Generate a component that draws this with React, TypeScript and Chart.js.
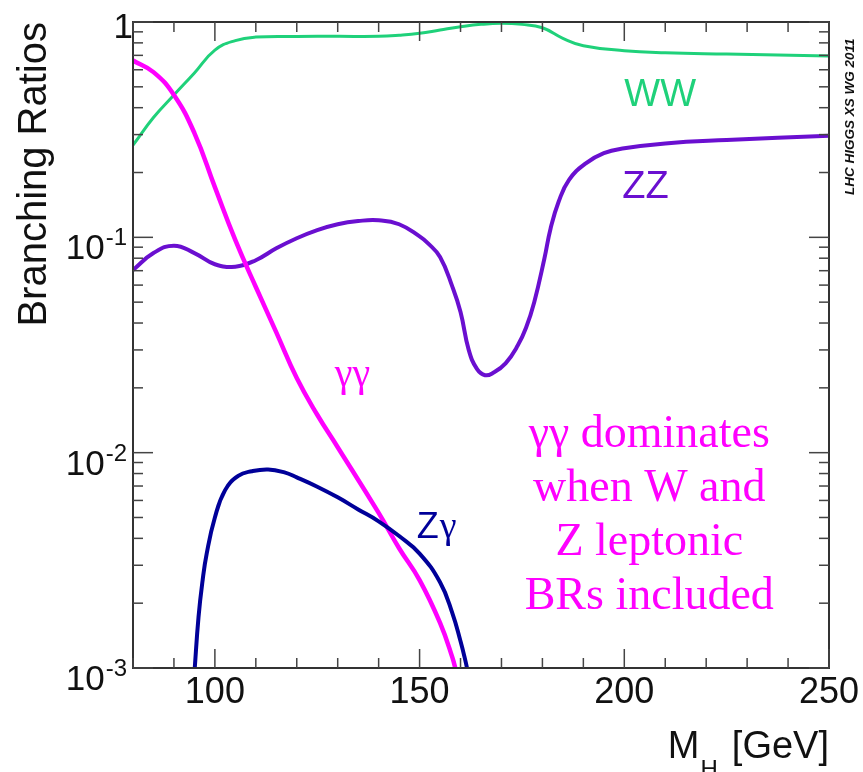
import React, { useEffect, useRef } from 'react';
import { Chart, registerables } from 'chart.js';

Chart.register(...registerables);

// ---- data ----
const massWW = [80, 85, 90, 95, 100, 105, 110, 120, 130, 140, 145, 150, 155, 160, 165, 170, 175, 180, 185, 190, 200, 210, 225, 250];
const brWW = [0.268, 0.36, 0.458, 0.58, 0.74, 0.82, 0.851, 0.857, 0.858, 0.858, 0.868, 0.886, 0.918, 0.95, 0.975, 0.986, 0.975, 0.94, 0.84, 0.776, 0.736, 0.72, 0.71, 0.695];

const massZZ = [80, 85, 90, 95, 100, 105, 110, 115, 120, 125, 130, 135, 140, 145, 150, 152, 155, 158, 160, 162, 164, 166, 168, 171, 174, 176, 178, 180.5, 182, 184, 186.5, 190.5, 195, 200, 210, 225, 250];
const brZZ = [0.0705, 0.0845, 0.0914, 0.0845, 0.075, 0.0731, 0.0783, 0.0889, 0.099, 0.108, 0.115, 0.119, 0.12, 0.115, 0.101, 0.094, 0.081, 0.059, 0.045, 0.03, 0.0245, 0.0229, 0.0235, 0.026, 0.0315, 0.038, 0.05, 0.08, 0.11, 0.147, 0.185, 0.22, 0.246, 0.259, 0.273, 0.283, 0.296];

const massGG = [80, 85, 90, 95, 100, 105, 110, 115, 120, 125, 130, 140, 145, 150, 155, 158, 159];
const brGG = [0.662, 0.585, 0.458, 0.305, 0.171, 0.097, 0.0588, 0.0362, 0.0222, 0.015, 0.0106, 0.00525, 0.0036, 0.00256, 0.00162, 0.00112, 0.00095];

const massZG = [95, 96, 97, 98, 100, 102.5, 105.7, 109, 113, 117, 120, 125, 130, 135, 140, 145, 150, 155, 158, 160, 161, 162];
const brZG = [0.00095, 0.00172, 0.00255, 0.0034, 0.005, 0.0067, 0.0078, 0.0082, 0.00836, 0.0081, 0.00768, 0.00695, 0.0062, 0.00545, 0.0048, 0.0041, 0.0034, 0.0025, 0.0018, 0.00133, 0.00112, 0.00092];

// ---- axes / texts ----
const xMin = 80;
const xMax = 250;
const xStep = 10;
const xMajorTicks = [100, 150, 200, 250];
const yMin = 0.001;
const yMax = 1;
const yDecades = [0, -1, -2, -3];
const yTitle = 'Branching Ratios';
const xTitleMain = 'M';
const xTitleSub = 'H';
const xTitleRest = '[GeV]';
const credit = 'LHC HIGGS XS WG 2011';
const noteLines = ['γγ dominates', 'when W and', 'Z leptonic', 'BRs included'];
// label anchors in data coordinates [mass, BR]
const labelWW = { text: 'WW', at: [200, 0.407] };
const labelZZ = { text: 'ZZ', at: [199.5, 0.152] };
const labelGG = { text: 'γγ', at: [129.3, 0.0204] };
const labelZG = { main: 'Z', greek: 'γ', at: [149.3, 0.00401] };
const noteAnchor = [206.1, 0.0106];

const COL_WW = '#1fd17a';
const COL_ZZ = '#6a0fd0';
const COL_GG = '#ff00ff';
const COL_ZG = '#000099';

const SANS = '"Liberation Sans", Arial, Helvetica, sans-serif';
const SERIF = '"Liberation Serif", "Times New Roman", serif';

const pts = (xs: number[], ys: number[]) => xs.map((x, i) => ({ x, y: ys[i] }));

const decorPlugin = {
  id: 'decor',
  afterDatasetsDraw(chart: any) {
    const { ctx, chartArea: a, scales } = chart;
    const xs = scales.x;
    const ys = scales.y;
    ctx.save();

    // frame
    ctx.strokeStyle = '#333';
    ctx.lineWidth = 2;
    ctx.strokeRect(a.left, a.top, a.right - a.left, a.bottom - a.top);

    // ticks
    ctx.strokeStyle = '#444';
    ctx.lineWidth = 1.5;
    const seg = (x1: number, y1: number, x2: number, y2: number) => {
      ctx.beginPath();
      ctx.moveTo(x1, y1);
      ctx.lineTo(x2, y2);
      ctx.stroke();
    };
    for (let v = xMin; v <= xMax; v += xStep) {
      const px = xs.getPixelForValue(v);
      const len = xMajorTicks.includes(v) ? 19 : 10;
      seg(px, a.bottom, px, a.bottom - len);
      seg(px, a.top, px, a.top + len);
    }
    for (const e of yDecades) {
      for (let m = 1; m <= 9; m++) {
        const v = m * Math.pow(10, e);
        if (v > yMax * 1.0001) continue;
        const py = ys.getPixelForValue(v);
        const len = m === 1 ? 20 : 10;
        seg(a.left, py, a.left + len, py);
        seg(a.right, py, a.right - len, py);
      }
    }

    // y tick labels with superscripts
    ctx.fillStyle = '#111';
    ctx.textBaseline = 'alphabetic';
    ctx.textAlign = 'right';
    for (const e of yDecades) {
      const py = ys.getPixelForValue(Math.pow(10, e));
      if (e === 0) {
        ctx.font = `35px ${SANS}`;
        ctx.fillText('1', a.left, py + 16);
      } else {
        const sup = '-' + String(-e);
        ctx.font = `24px ${SANS}`;
        const rx = a.left - 6;
        ctx.fillText(sup, rx, py + 8);
        const w = ctx.measureText(sup).width;
        ctx.font = `35px ${SANS}`;
        ctx.fillText('10', rx - w - 1, py + 22);
      }
    }

    // x title with subscript
    ctx.textAlign = 'left';
    ctx.font = `38px ${SANS}`;
    const restW = ctx.measureText(xTitleRest).width;
    const mW = ctx.measureText(xTitleMain).width;
    ctx.font = `24px ${SANS}`;
    const hW = ctx.measureText(xTitleSub).width;
    const restX = a.right - restW;
    const hX = restX - 14 - hW;
    const mX = hX - mW - 1;
    ctx.font = `38px ${SANS}`;
    ctx.fillText(xTitleMain, mX, 758);
    ctx.fillText(xTitleRest, restX, 758);
    ctx.font = `24px ${SANS}`;
    ctx.fillText(xTitleSub, hX, 777);

    // series labels
    const P = (at: number[]) => [xs.getPixelForValue(at[0]), ys.getPixelForValue(at[1])];
    ctx.textAlign = 'left';
    let p = P(labelWW.at);
    ctx.fillStyle = COL_WW;
    ctx.font = `38px ${SANS}`;
    ctx.fillText(labelWW.text, p[0], p[1]);
    p = P(labelZZ.at);
    ctx.fillStyle = COL_ZZ;
    ctx.fillText(labelZZ.text, p[0], p[1]);
    p = P(labelGG.at);
    ctx.fillStyle = COL_GG;
    ctx.font = `40px ${SERIF}`;
    ctx.fillText(labelGG.text, p[0], p[1]);
    p = P(labelZG.at);
    ctx.fillStyle = COL_ZG;
    ctx.font = `36px ${SANS}`;
    ctx.fillText(labelZG.main, p[0], p[1]);
    const zw = ctx.measureText(labelZG.main).width;
    ctx.font = `38px ${SERIF}`;
    ctx.fillText(labelZG.greek, p[0] + zw + 1, p[1]);

    // annotation
    p = P(noteAnchor);
    ctx.fillStyle = COL_GG;
    ctx.font = `46px ${SERIF}`;
    ctx.textAlign = 'center';
    noteLines.forEach((t, i) => ctx.fillText(t, p[0], p[1] + i * 54));

    // credit, rotated
    ctx.save();
    ctx.translate(a.right + 21, 195);
    ctx.rotate(-Math.PI / 2);
    ctx.fillStyle = '#111';
    ctx.font = `italic bold 13.5px ${SANS}`;
    ctx.textAlign = 'left';
    ctx.textBaseline = 'middle';
    ctx.fillText(credit, 0, 0);
    ctx.restore();

    ctx.restore();
  },
};

export default function App() {
  const ref = useRef<HTMLCanvasElement | null>(null);
  useEffect(() => {
    if (!ref.current) return;
    const line = (data: any, color: string, width: number, order: number) => ({
      data,
      borderColor: color,
      backgroundColor: color,
      borderWidth: width,
      pointRadius: 0,
      showLine: true,
      fill: false,
      tension: 0.45,
      order,
    });
    const chart = new Chart(ref.current, {
      type: 'scatter',
      data: {
        datasets: [
          { label: 'Zγ', ...line(pts(massZG, brZG), COL_ZG, 4, 0) },
          { label: 'γγ', ...line(pts(massGG, brGG), COL_GG, 4.5, 1) },
          { label: 'ZZ', ...line(pts(massZZ, brZZ), COL_ZZ, 4, 2) },
          { label: 'WW', ...line(pts(massWW, brWW), COL_WW, 3, 3) },
        ] as any,
      },
      options: {
        responsive: false,
        animation: false,
        devicePixelRatio: 1,
        layout: { padding: { left: 0, right: 34, top: 22, bottom: 0 } },
        plugins: { legend: { display: false }, tooltip: { enabled: false } },
        scales: {
          x: {
            type: 'linear',
            min: xMin,
            max: xMax,
            grid: { display: false, drawTicks: false },
            border: { display: false },
            ticks: {
              stepSize: xStep,
              autoSkip: false,
              maxRotation: 0,
              padding: 3,
              color: '#111',
              font: { family: SANS, size: 36 },
              callback: (v: any) => (xMajorTicks.includes(Number(v)) ? String(v) : ''),
            },
            afterFit: (s: any) => {
              s.height = 104;
            },
          },
          y: {
            type: 'logarithmic',
            min: yMin,
            max: yMax,
            grid: { display: false, drawTicks: false },
            border: { display: false },
            ticks: { display: false },
            title: {
              display: true,
              text: yTitle,
              align: 'end',
              color: '#111',
              font: { family: SANS, size: 40 },
              padding: { top: 11, bottom: 0 },
            },
            afterFit: (s: any) => {
              s.width = 133;
            },
          },
        },
      } as any,
      plugins: [decorPlugin],
    });
    return () => chart.destroy();
  }, []);
  return (
    <div style={{ position: 'absolute', left: 0, top: 0, width: 863, height: 772, background: '#fff' }}>
      <canvas ref={ref} width={863} height={772} style={{ display: 'block', width: 863, height: 772 }} />
    </div>
  );
}
